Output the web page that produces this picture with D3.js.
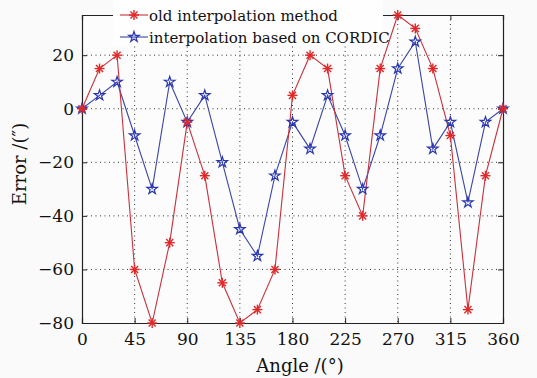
<!DOCTYPE html>
<html><head><meta charset="utf-8">
<script src="https://cdn.jsdelivr.net/npm/d3@7"></script>
<style>
html,body{margin:0;padding:0;background:#fafafa;}
svg{display:block;}
text{font-family:"DejaVu Serif","Liberation Serif",serif;fill:#111;}
</style></head>
<body><svg id="c" width="537" height="378"></svg>
<script>
const angles = [0,15,30,45,60,75,90,105,120,135,150,165,180,195,210,225,240,255,270,285,300,315,330,345,360];
const oldMethod = [0,15,20,-60,-80,-50,-5,-25,-65,-80,-75,-60,5,20,15,-25,-40,15,35,30,15,-10,-75,-25,0];
const cordic = [0,5,10,-10,-30,10,-5,5,-20,-45,-55,-25,-5,-15,5,-10,-30,-10,15,25,-15,-5,-35,-5,0];
const xTicks = [0,45,90,135,180,225,270,315,360];
const yTicks = [-80,-60,-40,-20,0,20];
const seriesNames = ["old interpolation method","interpolation based on CORDIC"];

const svg = d3.select("#c");
const L=82,R=503,T=15,B=323;
const x = d3.scaleLinear().domain([0,360]).range([L,R]);
const y = d3.scaleLinear().domain([-80,35]).range([B,T]);

svg.append("rect").attr("x",L).attr("y",T).attr("width",R-L).attr("height",B-T).attr("fill","#fcfcfc");

const g = svg.append("g");
g.selectAll("line.gx").data(xTicks.slice(1,-1)).join("line")
 .attr("x1",d=>x(d)).attr("x2",d=>x(d)).attr("y1",T).attr("y2",B)
 .attr("stroke","#333").attr("stroke-width",1).attr("stroke-dasharray","1,3.5");
g.selectAll("line.gy").data(yTicks.slice(1)).join("line")
 .attr("y1",d=>y(d)).attr("y2",d=>y(d)).attr("x1",L).attr("x2",R)
 .attr("stroke","#333").attr("stroke-width",1).attr("stroke-dasharray","1,3.5");

const xa = svg.append("g").attr("transform",`translate(0,${B})`)
 .call(d3.axisBottom(x).tickValues(xTicks).tickSize(-5).tickPadding(10));
const xt = svg.append("g").attr("transform",`translate(0,${T})`)
 .call(d3.axisTop(x).tickValues(xTicks).tickSize(-5).tickFormat(""));
const ya = svg.append("g").attr("transform",`translate(${L},0)`)
 .call(d3.axisLeft(y).tickValues(yTicks).tickSize(-5).tickPadding(8).tickFormat(d=>d<0?"\u2212"+Math.abs(d):d));
const yr = svg.append("g").attr("transform",`translate(${R},0)`)
 .call(d3.axisRight(y).tickValues(yTicks).tickSize(-5).tickFormat(""));
[xa,xt,ya,yr].forEach(a=>{a.select(".domain").attr("stroke","#222").attr("stroke-width",1.2);
 a.selectAll(".tick line").attr("stroke","#222");
 a.selectAll("text").style("font-family","DejaVu Serif").style("font-size","17px").attr("fill","#111");});

const line = d3.line().x((d,i)=>x(angles[i])).y(d=>y(d));
svg.append("path").datum(cordic).attr("d",line).attr("fill","none").attr("stroke","#3a46a8").attr("stroke-width",1.1);
svg.append("path").datum(oldMethod).attr("d",line).attr("fill","none").attr("stroke","#c8303c").attr("stroke-width",1.1);

const star = d3.symbol().type(d3.symbolStar).size(34);
function asterisk(sel,cx,cy,col){
  const r=5;
  const gg=sel.append("g").attr("transform",`translate(${cx},${cy})`);
  [0,45,90,135].forEach(a=>{
    const rad=a*Math.PI/180;
    gg.append("line").attr("x1",-r*Math.cos(rad)).attr("y1",-r*Math.sin(rad))
      .attr("x2",r*Math.cos(rad)).attr("y2",r*Math.sin(rad)).attr("stroke",col).attr("stroke-width",1.4);
  });
}
function starMark(sel,cx,cy,col){
  sel.append("path").attr("d",star).attr("transform",`translate(${cx},${cy})`)
   .attr("fill","none").attr("stroke",col).attr("stroke-width",1.2);
}
const mb = svg.append("g");
cordic.forEach((v,i)=>starMark(mb,x(angles[i]),y(v),"#2a36b0"));
const mr = svg.append("g");
oldMethod.forEach((v,i)=>asterisk(mr,x(angles[i]),y(v),"#e02828"));

svg.append("rect").attr("x",113).attr("y",0).attr("width",270).attr("height",46).attr("fill","#fefefe");
const lg = svg.append("g");
lg.append("line").attr("x1",120).attr("x2",148).attr("y1",15).attr("y2",15).attr("stroke","#c8303c").attr("stroke-width",1.1);
asterisk(lg,134,15,"#e02828");
lg.append("line").attr("x1",120).attr("x2",148).attr("y1",37).attr("y2",37).attr("stroke","#3a46a8").attr("stroke-width",1.1);
starMark(lg,134,37,"#2a36b0");
lg.append("text").attr("x",149).attr("y",21).style("font-size","15px").text(seriesNames[0]);
lg.append("text").attr("x",149).attr("y",43).style("font-size","15px").text(seriesNames[1]);

svg.append("text").attr("x",300).attr("y",372).attr("text-anchor","middle").style("font-size","18px").text("Angle /(°)");
svg.append("text").attr("transform","translate(26,164) rotate(-90)").attr("text-anchor","middle").style("font-size","18px").text("Error /(″)");
</script></body></html>
